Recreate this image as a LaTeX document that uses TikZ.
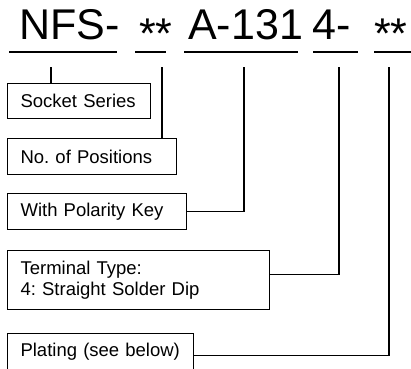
\documentclass[tikz,border=0pt]{standalone}
\usepackage{fontspec}
\setmainfont{Liberation Sans}
\frenchspacing
\hyphenpenalty=10000
\usetikzlibrary{positioning, calc}
\tikzset{
    codepart/.style={anchor=base west, inner sep=0pt,
                     font=\fontsize{43}{43}\selectfont},
    stars/.style={codepart, yshift=-9pt},
    uline/.style={-, line width=1.8pt},
    fieldbox/.style={draw, line width=1.1pt, anchor=north west,
                     inner xsep=13pt, inner ysep=0pt, align=left,
                     font=\fontsize{18.5}{21}\selectfont},
    lead/.style={-, line width=1.1pt},
}

\begin{document}
\begin{tikzpicture}[x=1pt, y=-1pt]
    \useasboundingbox (0,0) rectangle (411,368);
    % part number
    \node[codepart] (series) at (19,39) {NFS-};
    \node[stars] (npos) at (139,39) {**};
    \node[codepart] (key) at (188,39) {A-131};
    \node[codepart] (term) at (312,39) {4-};
    \node[stars] (plate) at (374,39) {**};
    \draw[uline] (9,52) -- (117,52);
    \draw[uline] (135,52) -- (166,52);
    \draw[uline] (184,52) -- (298,52);
    \draw[uline] (313,52) -- (358,52);
    \draw[uline] (374,52) -- (412,52);
    % lead starts
    \coordinate (lA) at (51,67);
    \coordinate (lB) at (162,67);
    \coordinate (lC) at (244,67);
    \coordinate (lD) at (339,67);
    \coordinate (lE) at (389,67);
    % field boxes
    \node[fieldbox, minimum height=35pt, text width=117pt] (bSeries) at (7,83) {Socket Series};
    \node[fieldbox, minimum height=36pt, text width=143pt] (bPos) at (7,138) {No. of Positions};
    \node[fieldbox, minimum height=36pt, text width=153pt] (bKey) at (7,193) {With Polarity Key};
    \node[fieldbox, minimum height=59pt, text width=236pt] (bTerm) at (7,250) {Terminal Type:\\4: Straight Solder Dip};
    \node[fieldbox, minimum height=36pt, text width=160pt] (bPlate) at (7,333) {Plating (see below)};
    \draw[lead] (lA) -- (lA |- bSeries.north);
    \draw[lead] (lB) -- (lB |- bPos.north);
    \draw[lead] (lC) |- (bKey.east);
    \draw[lead] (lD) |- ([yshift=5.5pt]bTerm.east);
    \draw[lead] (lE) |- ([yshift=-4pt]bPlate.east);
\end{tikzpicture}
\end{document}
